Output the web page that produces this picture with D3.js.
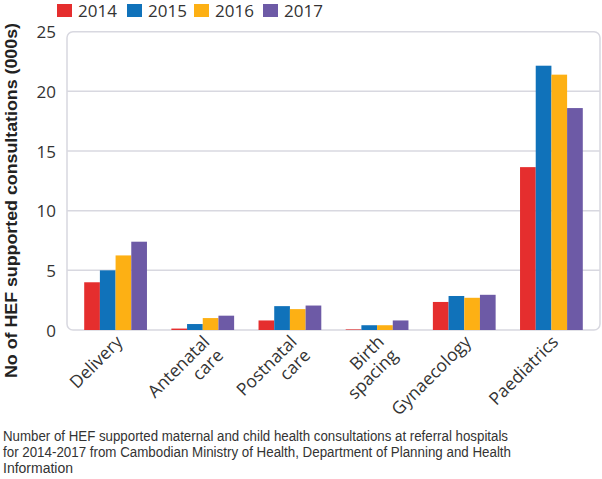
<!DOCTYPE html>
<html><head><meta charset="utf-8">
<script src="https://cdn.jsdelivr.net/npm/d3@7"></script>
<style>body{margin:0;background:#fff;} svg{display:block;}</style>
</head><body>
<svg id="c" width="602" height="479"></svg>
<script>
const categories = [["Delivery"],["Antenatal","care"],["Postnatal","care"],["Birth","spacing"],["Gynaecology"],["Paediatrics"]];
const years = ["2014","2015","2016","2017"];
const colors = ["#e52e2e","#1072ba","#fdb014","#6d5aa6"];
const v2014 = [4.0, 0.12, 0.8, 0.05, 2.35, 13.65];
const v2015 = [5.0, 0.5, 2.0, 0.4, 2.85, 22.15];
const v2016 = [6.25, 1.0, 1.75, 0.4, 2.7, 21.4];
const v2017 = [7.4, 1.2, 2.05, 0.8, 2.95, 18.6];
const series = [v2014, v2015, v2016, v2017];
const yTicks = [0,5,10,15,20,25];
const yTitle = "No of HEF supported consultations (000s)";
const caption = ["Number of HEF supported maternal and child health consultations at referral hospitals",
  "for 2014-2017 from Cambodian Ministry of Health, Department of Planning and Health",
  "Information"];

const svg = d3.select("#c");
const font = "'Open Sans', 'Noto Sans', sans-serif";
const catNames = categories.map(c => c.join(" "));
const x0 = d3.scaleBand().domain(catNames).range([72, 595]).paddingInner(0.28).paddingOuter(0.14);
const x1 = d3.scaleBand().domain(years).range([0, x0.bandwidth()]);
const y = d3.scaleLinear().domain([0, 25]).range([330, 31.7]);

// frame
svg.append("rect").attr("x", 67).attr("y", y(25)).attr("width", 600-67).attr("height", y(0)-y(25))
  .attr("rx", 6).attr("fill", "none").attr("stroke", "#d8d8e0").attr("stroke-width", 1.5);
// grid
svg.append("g").selectAll("line").data(yTicks.filter(t => t>0 && t<25)).join("line")
  .attr("x1", 67).attr("x2", 600).attr("y1", d => y(d)).attr("y2", d => y(d))
  .attr("stroke", "#d8d8e0").attr("stroke-width", 1.5);

// y axis labels
const yAxis = d3.axisLeft(y).tickValues(yTicks).tickSize(0).tickPadding(0);
const ga = svg.append("g").attr("transform", "translate(56,0)").call(yAxis);
ga.select(".domain").remove();
ga.selectAll("text").attr("font-family", font).attr("font-size", 17).attr("fill", "#333").attr("dy", "0.36em");

// bars
const g = svg.append("g");
series.forEach((vals, si) => {
  g.append("g").selectAll("rect").data(vals).join("rect")
    .attr("x", (d, i) => x0(catNames[i]) + x1(years[si]))
    .attr("width", x1.bandwidth())
    .attr("y", d => y(d))
    .attr("height", d => y(0) - y(d))
    .attr("fill", colors[si]);
});

// x labels
categories.forEach((lines, i) => {
  const cx = x0(catNames[i]) + x0.bandwidth()/2;
  const t = svg.append("text")
    .attr("transform", `translate(${cx+8},${343}) rotate(-45)`)
    .attr("text-anchor", "end").attr("font-family", font).attr("font-size", 17.5).attr("fill", "#333");
  lines.forEach((l, j) => t.append("tspan").attr("x", 0).attr("dy", j === 0 ? 0 : "1.1em").text(l));
});

// y title
svg.append("text").attr("transform", "translate(17,200.5) rotate(-90)")
  .attr("text-anchor", "middle").attr("font-family", "'Liberation Sans', Arial, sans-serif").attr("font-weight", "bold")
  .attr("font-size", 16).attr("fill", "#222")
  .attr("textLength", 355).attr("lengthAdjust", "spacingAndGlyphs").text(yTitle);

// legend
years.forEach((yr, i) => {
  const lx = [57, 127, 194, 263][i];
  svg.append("rect").attr("x", lx).attr("y", 4).attr("width", 15).attr("height", 13).attr("fill", colors[i]);
  svg.append("text").attr("x", lx + 21).attr("y", 17).attr("font-family", font).attr("font-size", 17)
    .attr("fill", "#333").text(yr);
});

// caption
const capW = [505, 508, null];
caption.forEach((c, i) => {
  const t = svg.append("text").attr("x", 3).attr("y", 441 + i*16).attr("font-family", "'Liberation Sans', Arial, sans-serif").attr("font-size", 14)
    .attr("fill", "#333").text(c);
  if (capW[i]) t.attr("textLength", capW[i]).attr("lengthAdjust", "spacingAndGlyphs");
});
</script>
</body></html>
